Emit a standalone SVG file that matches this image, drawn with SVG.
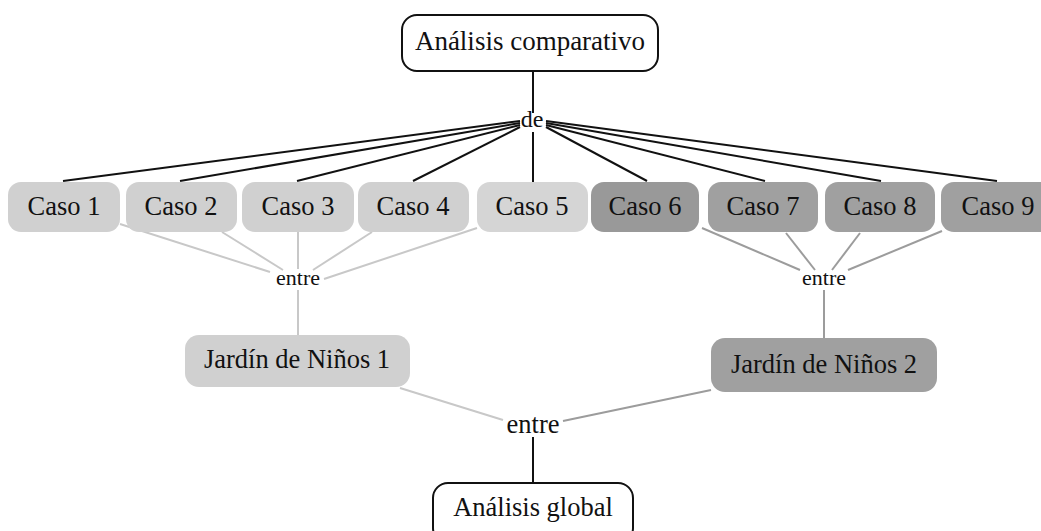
<svg xmlns="http://www.w3.org/2000/svg" width="1041" height="531" viewBox="0 0 1041 531">
  <style>
    text { fill: #111; text-anchor: middle; }
    .lbl { font-size: 26.5px; }
    .conn { font-size: 22px; }
    .outline { fill: #fff; stroke: #111; stroke-width: 2; }
    .light { fill: #d0d0d0; }
    .mid { fill: #a0a0a0; }
    .dark { fill: #999; }
    .k { stroke: #111; stroke-width: 2; fill: none; }
    .lg { stroke: #c8c8c8; stroke-width: 2; fill: none; }
    .dg { stroke: #9c9c9c; stroke-width: 2; fill: none; }
  </style>
  <rect width="1041" height="531" fill="#fff"/>

  <g id="connectors">
    <!-- trunk -->
    <line class="k" x1="533" y1="71" x2="533" y2="113"/>
    <line class="k" x1="533" y1="132" x2="533" y2="182"/>
    <!-- fan from "de" -->
    <line class="k" x1="520" y1="121" x2="63" y2="181"/>
    <line class="k" x1="520" y1="123" x2="180" y2="181"/>
    <line class="k" x1="520" y1="125" x2="297" y2="181"/>
    <line class="k" x1="520" y1="127" x2="413" y2="181"/>
    <line class="k" x1="546" y1="127" x2="647" y2="181"/>
    <line class="k" x1="546" y1="125" x2="765" y2="181"/>
    <line class="k" x1="546" y1="123" x2="881" y2="181"/>
    <line class="k" x1="546" y1="121" x2="997" y2="181"/>
    <!-- group 1 -->
    <line class="lg" x1="120" y1="224" x2="270" y2="272"/>
    <line class="lg" x1="222" y1="232" x2="283" y2="270"/>
    <line class="lg" x1="298" y1="232" x2="298" y2="269"/>
    <line class="lg" x1="372" y1="232" x2="313" y2="270"/>
    <line class="lg" x1="477" y1="228" x2="324" y2="279"/>
    <line class="lg" x1="298" y1="290" x2="298" y2="335"/>
    <!-- group 2 -->
    <line class="dg" x1="702" y1="228" x2="800" y2="270"/>
    <line class="dg" x1="786" y1="233" x2="815" y2="270"/>
    <line class="dg" x1="860" y1="233" x2="832" y2="270"/>
    <line class="dg" x1="942" y1="231" x2="848" y2="270"/>
    <line class="dg" x1="824" y1="290" x2="824" y2="338"/>
    <!-- to global -->
    <line class="lg" x1="400" y1="388" x2="503" y2="420"/>
    <line class="dg" x1="711" y1="390" x2="563" y2="421"/>
    <line class="k" x1="533" y1="437" x2="533" y2="483"/>
  </g>

  <g font-family="'Liberation Serif', 'Times New Roman', 'DejaVu Serif', serif">
  <g id="analisis-comparativo">
    <rect class="outline" x="402" y="15" width="256" height="56" rx="15"/>
    <text x="530" y="50" font-size="27">Análisis comparativo</text>
  </g>
  <g id="de"><text x="532" y="127" font-size="24">de</text></g>

  <g id="caso1"><rect class="light" x="8" y="182" width="112" height="50" rx="13"/><text class="lbl" x="64" y="215">Caso 1</text></g>
  <g id="caso2"><rect class="light" x="126" y="182" width="111" height="50" rx="13"/><text class="lbl" x="181" y="215">Caso 2</text></g>
  <g id="caso3"><rect class="light" x="242" y="182" width="112" height="50" rx="13"/><text class="lbl" x="298" y="215">Caso 3</text></g>
  <g id="caso4"><rect class="light" x="358" y="182" width="111" height="50" rx="13"/><text class="lbl" x="413" y="215">Caso 4</text></g>
  <g id="caso5"><rect class="light" x="477" y="182" width="111" height="50" rx="13" fill="#d5d5d5" style="fill:#d5d5d5"/><text class="lbl" x="532" y="215">Caso 5</text></g>
  <g id="caso6"><rect class="dark" x="591" y="182" width="108" height="50" rx="13"/><text class="lbl" x="645" y="215">Caso 6</text></g>
  <g id="caso7"><rect class="mid" x="708" y="182" width="110" height="50" rx="13"/><text class="lbl" x="763" y="215">Caso 7</text></g>
  <g id="caso8"><rect class="mid" x="825" y="182" width="110" height="50" rx="13"/><text class="lbl" x="880" y="215">Caso 8</text></g>
  <g id="caso9"><rect class="mid" x="941" y="182" width="112" height="50" rx="13"/><text class="lbl" x="998" y="215">Caso 9</text></g>

  <g id="entre1"><text class="conn" x="298" y="285">entre</text></g>
  <g id="entre2"><text class="conn" x="824" y="285">entre</text></g>

  <g id="jardin1">
    <rect class="light" x="185" y="335" width="225" height="52" rx="14"/>
    <text class="lbl" x="297" y="368">Jardín de Niños 1</text>
  </g>
  <g id="jardin2">
    <rect class="mid" x="711" y="338" width="226" height="54" rx="14"/>
    <text class="lbl" x="824" y="373">Jardín de Niños 2</text>
  </g>

  <g id="entre3"><text class="lbl" x="533" y="433">entre</text></g>

  <g id="analisis-global">
    <rect class="outline" x="433" y="483" width="200" height="60" rx="15"/>
    <text class="lbl" x="533" y="516">Análisis global</text>
  </g>
  </g>
</svg>
